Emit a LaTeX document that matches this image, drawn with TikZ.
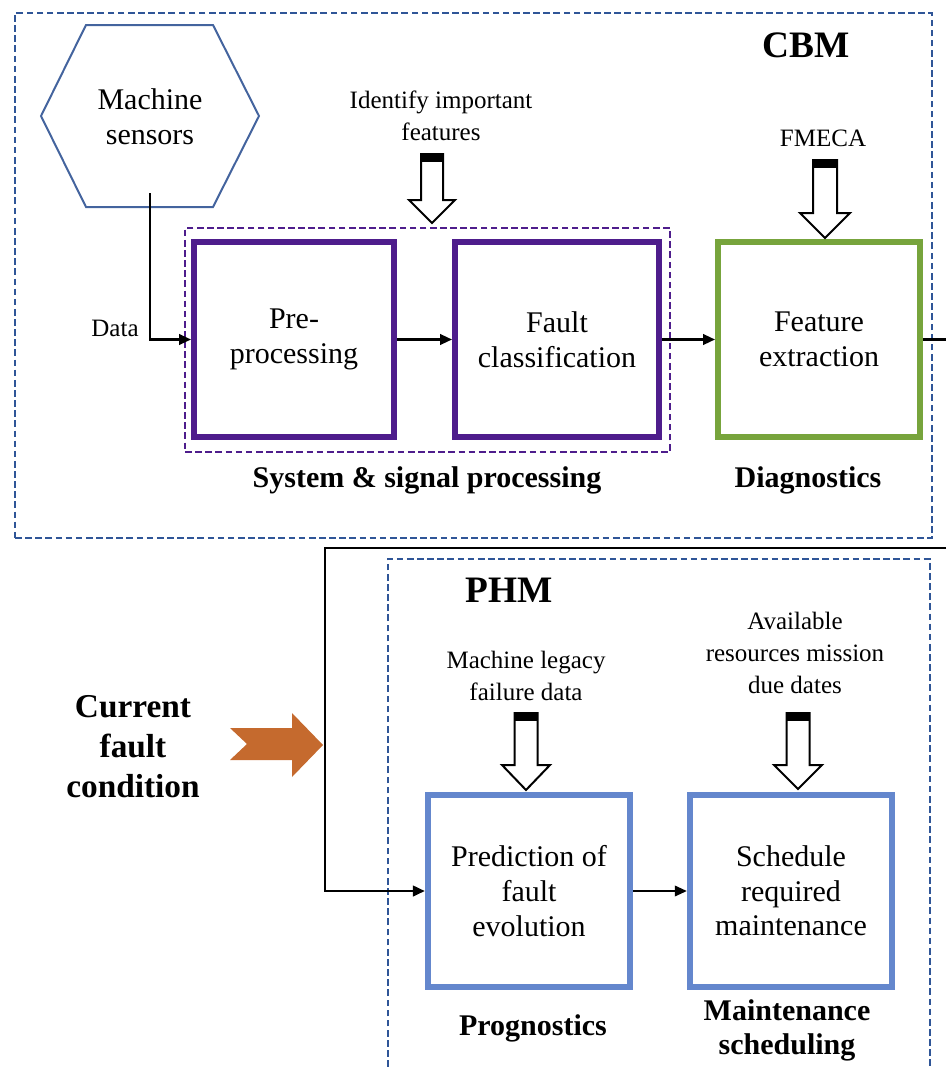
\documentclass[tikz,border=0pt]{standalone}
\usepackage{fontspec}
\setmainfont{Liberation Serif}
\usetikzlibrary{arrows.meta}
\definecolor{dashblue}{RGB}{47,85,151}
\definecolor{hexblue}{RGB}{68,100,158}
\definecolor{purp}{RGB}{78,29,140}
\definecolor{grn}{RGB}{119,164,60}
\definecolor{lblue}{RGB}{100,135,205}
\definecolor{orng}{RGB}{197,106,46}
\tikzset{
  frame/.style={draw=dashblue, line width=1.4pt, dash pattern=on 5pt off 2.6pt},
  grpframe/.style={draw=purp, line width=1.4pt, dash pattern=on 5pt off 2.6pt},
  boxtext/.style={align=center, font=\fontsize{22.5}{26}\selectfont},
  smalltext/.style={align=center, font=\fontsize{18.75}{24}\selectfont},
  boldlabel/.style={align=center, font=\fontsize{22.5}{25.5}\selectfont\bfseries},
  titlelabel/.style={font=\fontsize{28}{32}\selectfont\bfseries},
  pbox/.style={draw=purp, line width=4.5pt, boxtext, minimum height=146.25pt},
  gbox/.style={draw=grn, line width=4.5pt, boxtext, minimum height=146.25pt},
  bbox/.style={draw=lblue, line width=4.8pt, boxtext, minimum height=144pt, minimum width=151.5pt},
  conn/.style={line width=1.6pt, -{Triangle[length=9pt,width=8pt]}},
  connthin/.style={line width=1.2pt, -{Triangle[length=9pt,width=8pt]}},
  blk/.style={draw=black, fill=white, line width=1.5pt, line join=miter},
}
\newcommand{\blockarr}[5]{%
  \draw[blk] (#1-#5,#2) -- (#1-#5,#3) -- (#1-2*#5-1,#3) -- (#1,#4) -- (#1+2*#5+1,#3) -- (#1+#5,#3) -- (#1+#5,#2) -- cycle;
  \fill (#1-#5,#2) rectangle (#1+#5,#2+8);
}
\begin{document}
\begin{tikzpicture}[x=0.75pt, y=-0.75pt]
\useasboundingbox (0,0) rectangle (946,1067);

% CBM frame
\node[frame, minimum width=687.75pt, minimum height=393.75pt] (cbm) at (473.5,275.5) {};
\node[titlelabel] (cbmt) at (806,45) {CBM};

% hexagon
\draw[hexblue, line width=1.5pt] (41,116) -- (86,25) -- (213,25) -- (259,116) -- (213,207) -- (86,207) -- cycle;
\node[boxtext] (sensors) at (150,117) {Machine\\sensors};
\coordinate (sensout) at (150,193);

% group frame
\node[grpframe, minimum width=363.75pt, minimum height=168pt] (grp) at (427.5,340) {};

% boxes
\node[pbox, minimum width=150pt] (pre) at (294,339.5) {Pre-\\processing};
\node[pbox, minimum width=153pt] (fault) at (557,339.5) {Fault\\classification};
\node[gbox, minimum width=151.5pt] (feat) at (819,339.5) {Feature\\extraction};

\node[smalltext] (data) at (115,328) {Data};
\node[smalltext] (ident) at (441,116) {Identify important\\features};
\node[smalltext] (fmeca) at (823,138) {FMECA};

\node[boldlabel] (sysl) at (427,480) {System \& signal processing};
\node[boldlabel] (diagl) at (808,480) {Diagnostics};

\blockarr{432}{154}{200}{223}{11}
\blockarr{825}{160}{213}{238}{12}

\draw[conn] (sensout) |- (pre.west);
\draw[conn] (pre) -- (fault);
\draw[conn] (fault) -- (feat);
\coordinate (edgeA) at (946,339.5);
\draw[line width=1.6pt] (feat.east) -- (edgeA);

% PHM frame (open at the bottom)
\draw[frame] (388,1067) -- (388,559) -- (930,559) -- (930,1067);
\node[titlelabel] (phmt) at (509,590) {PHM};

\node[smalltext] (legacy) at (526,676) {Machine legacy\\failure data};
\node[smalltext] (avail) at (795,653) {Available\\resources mission\\due dates};

\blockarr{526}{713}{765}{790}{11.5}
\blockarr{798}{713}{765}{789}{11.5}

\node[bbox] (pred) at (529,891) {Prediction of\\fault\\evolution};
\node[bbox] (sched) at (791,891) {Schedule\\required\\maintenance};

\node[boldlabel] (progl) at (533,1028) {Prognostics};
\node[boldlabel] (maintl) at (787,1030) {Maintenance\\scheduling};

% current fault condition
\node[align=center, font=\fontsize{25}{30}\selectfont\bfseries] (cfc) at (133,747) {Current\\fault\\condition};
\fill[orng] (230,728) -- (292,728) -- (292,713) -- (323,745) -- (292,777) -- (292,760) -- (230,760) -- (247,744) -- cycle;

\coordinate (edgeB) at (946,548);
\coordinate (turn) at (325,548);
\draw[conn, line width=1.8pt] (edgeB) -- (turn) |- (pred.west);
\draw[connthin] (pred) -- (sched);
\end{tikzpicture}
\end{document}
